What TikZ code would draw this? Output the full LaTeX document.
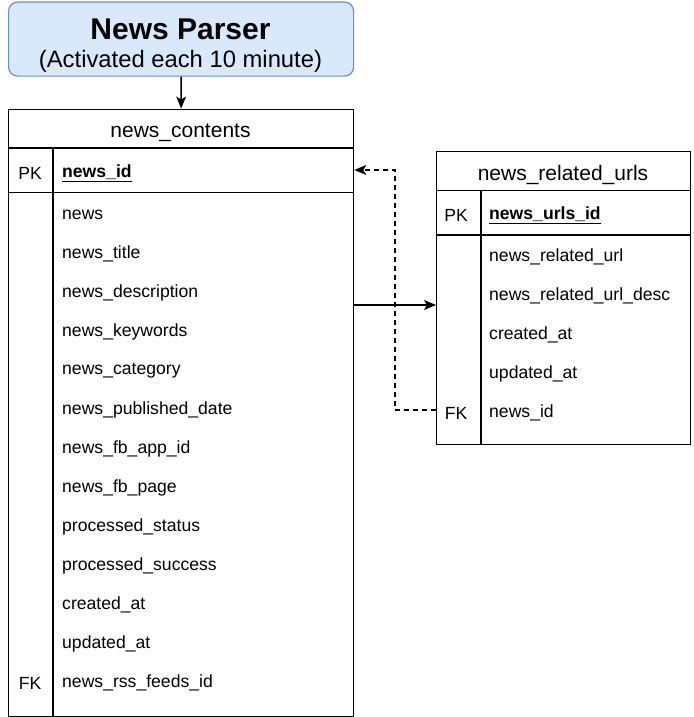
\documentclass[tikz,border=0pt]{standalone}
\usepackage{fontspec}
\setmainfont{Liberation Sans}
\usetikzlibrary{arrows.meta,calc}
\definecolor{parserfill}{HTML}{DAE8FC}
\definecolor{parserdraw}{HTML}{6C8EBF}
\tikzset{
  tbl/.style={draw=black, line width=1.3pt, rectangle, inner sep=0pt, anchor=north west},
  sep/.style={draw=black, line width=1.3pt},
  fld/.style={anchor=west, inner sep=0pt, yshift=-2pt, font=\fontsize{17.6}{20}\selectfont},
  key/.style={anchor=center, inner sep=0pt, yshift=-2pt, font=\fontsize{17.6}{20}\selectfont},
  hdr/.style={anchor=center, inner sep=0pt, yshift=-2.5pt, font=\fontsize{21}{24}\selectfont},
  conn/.style={line width=1.3pt, -{Stealth[length=12pt,width=10pt,inset=3pt]}},
}
\begin{document}
\begin{tikzpicture}[x=1pt,y=-1pt]
\useasboundingbox (0,0) rectangle (693,717);
% parser box
\node[draw=parserdraw, fill=parserfill, line width=1.2pt, rounded corners=9pt,
      minimum width=345pt, minimum height=74pt, inner sep=0pt, anchor=north west] (parser) at (8,1.5) {};
\node[anchor=center, inner sep=0pt, font=\fontsize{30}{34}\bfseries\selectfont] (ptitle) at (180.5,29) {News Parser};
\node[anchor=center, inner sep=0pt, font=\fontsize{23.8}{27}\selectfont] (psub) at (180.5,61) {(Activated each 10 minute)};

% news_contents table
\node[tbl, minimum width=345pt, minimum height=607pt] (contents) at (8,108.5) {};
\draw[sep] (8,148) -- (353,148);
\draw[sep] (8,192.5) -- (353,192.5);
\draw[sep] (53,148) -- (53,715.5);
\node[hdr] (ctitle) at (180.5,130) {news\_contents};
\node[key] (cpk) at (30,171) {PK};
\node[fld] (cpkf) at (62,171) {\underline{\textbf{news\_id}}};
\node[fld] (c1) at (62,213) {news};
\node[fld] (c2) at (62,252) {news\_title};
\node[fld] (c3) at (62,291) {news\_description};
\node[fld] (c4) at (62,330) {news\_keywords};
\node[fld] (c5) at (62,369) {news\_category};
\node[fld] (c6) at (62,408) {news\_published\_date};
\node[fld] (c7) at (62,447) {news\_fb\_app\_id};
\node[fld] (c8) at (62,486) {news\_fb\_page};
\node[fld] (c9) at (62,525) {processed\_status};
\node[fld] (c10) at (62,564) {processed\_success};
\node[fld] (c11) at (62,603) {created\_at};
\node[fld] (c12) at (62,642) {updated\_at};
\node[fld] (c13) at (62,681) {news\_rss\_feeds\_id};
\node[key] (cfk) at (30,681) {FK};

% news_related_urls table
\node[tbl, minimum width=254pt, minimum height=292.5pt] (related) at (436,151) {};
\draw[sep] (436,190.5) -- (690,190.5);
\draw[sep] (436,235) -- (690,235);
\draw[sep] (481,190.5) -- (481,443.5);
\node[hdr] (rtitle) at (563,172) {news\_related\_urls};
\node[key] (rpk) at (456,213) {PK};
\node[fld] (rpkf) at (489,213) {\underline{\textbf{news\_urls\_id}}};
\node[fld] (r1) at (489,255) {news\_related\_url};
\node[fld] (r2) at (489,294) {news\_related\_url\_desc};
\node[fld] (r3) at (489,333) {created\_at};
\node[fld] (r4) at (489,372) {updated\_at};
\node[fld] (r5) at (489,411) {news\_id};
\node[key] (rfk) at (456,411) {FK};

% connectors
\draw[conn] (parser.south) -- (contents.north);
\draw[conn] (contents.east |- 0,305) -- (related.west |- 0,305);
\draw[conn, dashed, dash pattern=on 5pt off 4pt] (related.west |- 0,410) -- (395,410) |- (contents.east |- 0,170);
\end{tikzpicture}
\end{document}
